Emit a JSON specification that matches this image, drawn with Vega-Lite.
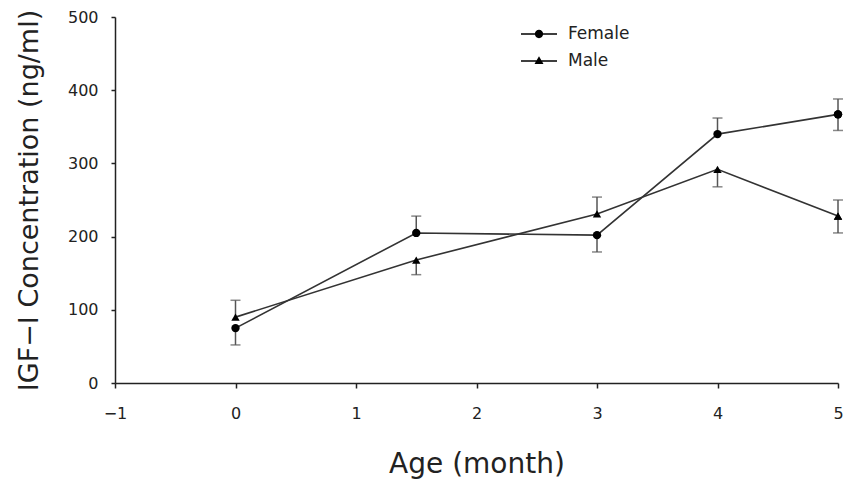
{
  "$schema": "https://vega.github.io/schema/vega-lite/v6.json",
  "width": 723,
  "height": 366,
  "autosize": {"type": "none"},
  "padding": {"left": 115, "top": 17, "right": 12, "bottom": 100},
  "background": "white",
  "config": {
    "view": {"stroke": null},
    "font": "DejaVu Sans",
    "axis": {"grid": false, "domainColor": "#222", "tickColor": "#222", "labelColor": "#222", "titleColor": "#222", "labelFont": "DejaVu Sans", "titleFont": "DejaVu Sans", "titleFontWeight": "normal", "domainWidth": 1.5, "tickWidth": 1.5}
  },
  "data": {
    "values": [
      {"age": 0, "sex": "Female", "conc": 75, "err": 52},
      {"age": 1.5, "sex": "Female", "conc": 205, "err": 228},
      {"age": 3, "sex": "Female", "conc": 202, "err": 179},
      {"age": 4, "sex": "Female", "conc": 340, "err": 362},
      {"age": 5, "sex": "Female", "conc": 367, "err": 388},
      {"age": 5, "sex": "Female", "conc": 367, "err": 345},
      {"age": 0, "sex": "Male", "conc": 90, "err": 113},
      {"age": 1.5, "sex": "Male", "conc": 168, "err": 148},
      {"age": 3, "sex": "Male", "conc": 231, "err": 254},
      {"age": 4, "sex": "Male", "conc": 292, "err": 268},
      {"age": 5, "sex": "Male", "conc": 228, "err": 250},
      {"age": 5, "sex": "Male", "conc": 228, "err": 205}
    ]
  },
  "encoding": {
    "x": {
      "field": "age", "type": "quantitative",
      "scale": {"domain": [-1, 5], "nice": false, "zero": false},
      "axis": {"values": [-1, 0, 1, 2, 3, 4, 5], "tickSize": 5, "labelFlush": false, "labelPadding": 17, "labelFontSize": 16, "title": "Age (month)", "titleFontSize": 28, "titlePadding": 29,
        "encode": {"ticks": {"update": {"y": {"value": 0}, "y2": {"value": -5}}}}}
    },
    "y": {
      "field": "conc", "type": "quantitative",
      "scale": {"domain": [0, 500], "nice": false},
      "axis": {"values": [0, 100, 200, 300, 400, 500], "tickSize": 4, "labelPadding": 13, "labelFontSize": 16, "title": "IGF−I Concentration (ng/ml)", "titleFontSize": 27, "titlePadding": 24}
    }
  },
  "layer": [
    {
      "mark": {"type": "rule", "color": "#555", "strokeWidth": 1.5},
      "encoding": {"y2": {"field": "err"}}
    },
    {
      "mark": {"type": "tick", "orient": "horizontal", "color": "#555", "size": 10, "thickness": 1.5},
      "encoding": {"y": {"field": "err", "type": "quantitative"}}
    },
    {
      "transform": [{"aggregate": [{"op": "mean", "field": "conc", "as": "conc"}], "groupby": ["age", "sex"]}],
      "mark": {"type": "line", "color": "#333", "strokeWidth": 1.6},
      "encoding": {"detail": {"field": "sex"}}
    },
    {
      "transform": [{"filter": "datum.sex === 'Female'"}],
      "mark": {"type": "point", "filled": true, "color": "#000", "opacity": 1, "size": 70, "shape": "circle"}
    },
    {
      "transform": [{"filter": "datum.sex === 'Male'"}],
      "mark": {"type": "point", "filled": true, "color": "#000", "opacity": 1, "size": 70, "shape": "triangle-up"}
    },
    {
      "mark": {"type": "point", "filled": true, "color": "#000", "opacity": 0},
      "encoding": {
        "shape": {
          "field": "sex", "type": "nominal",
          "scale": {"domain": ["Female", "Male"], "range": ["M-1,-0.04H1V0.04H-1ZM0.23,0A0.23,0.23,0,1,1,-0.23,0A0.23,0.23,0,1,1,0.23,0Z", "M-1,-0.04H1V0.04H-1ZM0,-0.26L0.25,0.17L-0.25,0.17Z"]},
          "legend": {
            "title": null, "orient": "none", "legendX": 405, "legendY": -2, "padding": 0,
            "symbolSize": 1296, "symbolOpacity": 1, "symbolFillColor": "#000",
            "labelFontSize": 17, "labelColor": "#222", "labelOffset": 10, "rowPadding": -9,
            "encode": {"symbols": {"update": {"fill": {"value": "#111"}, "opacity": {"value": 1}, "fillOpacity": {"value": 1}, "size": {"value": 1296}}}}
          }
        }
      }
    }
  ]
}
